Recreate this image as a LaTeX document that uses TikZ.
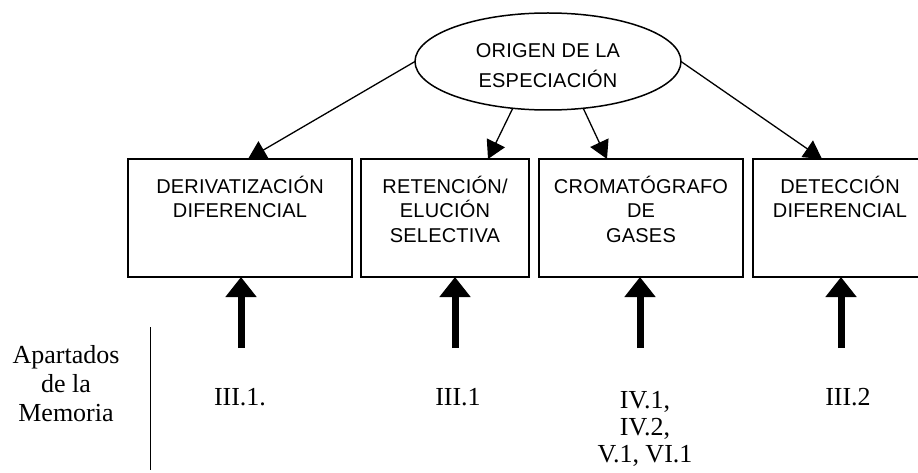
\documentclass[tikz,border=0pt]{standalone}
\usepackage{fontspec}
\setmainfont{Liberation Serif}
\newfontfamily\boxfont[LetterSpace=1]{Liberation Sans}
\usetikzlibrary{arrows.meta,calc,shapes.geometric}

% text of a stage box: fixed size, lines hung from the top
\newcommand\stagetext[2]{\parbox[c][118pt][t]{#1pt}{\centering\boxfont\fontsize{20}{24.5}\selectfont\rule{0pt}{34pt}#2}}

\begin{document}
\begin{tikzpicture}[x=1pt,y=-1pt,
  every node/.style={inner sep=0pt, outer sep=0pt},
  stage/.style={draw, line width=1.5pt},
  origin/.style={draw, ellipse, line width=1.5pt, minimum width=266pt, minimum height=97pt,
    font=\boxfont\fontsize{20}{30}\selectfont, align=center},
  feed/.style={line width=1.3pt, -{Triangle[length=18pt,width=20pt]}},
  source/.style={line width=7pt, -{Triangle[length=20pt,width=30pt]}},
  ref/.style={font=\fontsize{26}{29}\selectfont, align=center}
]
\useasboundingbox (0,0) rectangle (918,473);
\clip (0,0) rectangle (918,473);

% origin of the speciation
\node[origin] (orig) at (548,61.5) {\rule{0pt}{23pt}ORIGEN DE LA\\ESPECIACIÓN};

% analytical stages
\node[stage] (b1) at (240,218) {\stagetext{224}{DERIVATIZACIÓN\\DIFERENCIAL}};
\node[stage] (b2) at (445,218) {\stagetext{168}{RETENCIÓN/\\ELUCIÓN\\SELECTIVA}};
\node[stage] (b3) at (641,218) {\stagetext{204}{CROMATÓGRAFO\\DE\\GASES}};
\node[stage] (b4) at (840,218) {\stagetext{174}{DETECCIÓN\\DIFERENCIAL}};

% from the origin to each stage
\draw[feed] (orig.west) -- ($(b1.north)+(8,0)$);
\draw[feed] (orig.233) -- ($(b2.north)+(43,0)$);
\draw[feed] (orig.307) -- ($(b3.north)+(-34,0)$);
\draw[feed] (orig.east) -- ($(b4.north)+(-18,0)$);

% thick arrows from the sections below
\coordinate (s1) at (241,348);
\coordinate (s2) at (455,348);
\coordinate (s3) at (640,348);
\coordinate (s4) at (841,348);
\draw[source] (s1) -- (s1 |- b1.south);
\draw[source] (s2) -- (s2 |- b2.south);
\draw[source] (s3) -- (s3 |- b3.south);
\draw[source] (s4) -- (s4 |- b4.south);

% separator
\coordinate (v0) at (150,327);
\coordinate (v1) at (150,470);
\draw[line width=1pt] (v0) -- (v1);

% sections of the report
\node[ref, anchor=north] (mem) at (66,343) {\rule{0pt}{20pt}Apartados\\de la\\Memoria};
\node[ref, anchor=base] (r1) at (240,405) {III.1.};
\node[ref, anchor=base] (r2) at (458,405) {III.1};
\node[ref, anchor=north, font=\fontsize{26}{27}\selectfont] (r3) at (645,388) {\rule{0pt}{20pt}IV.1,\\IV.2,\\V.1, VI.1};
\node[ref, anchor=base] (r4) at (848,405) {III.2};
\end{tikzpicture}
\end{document}
